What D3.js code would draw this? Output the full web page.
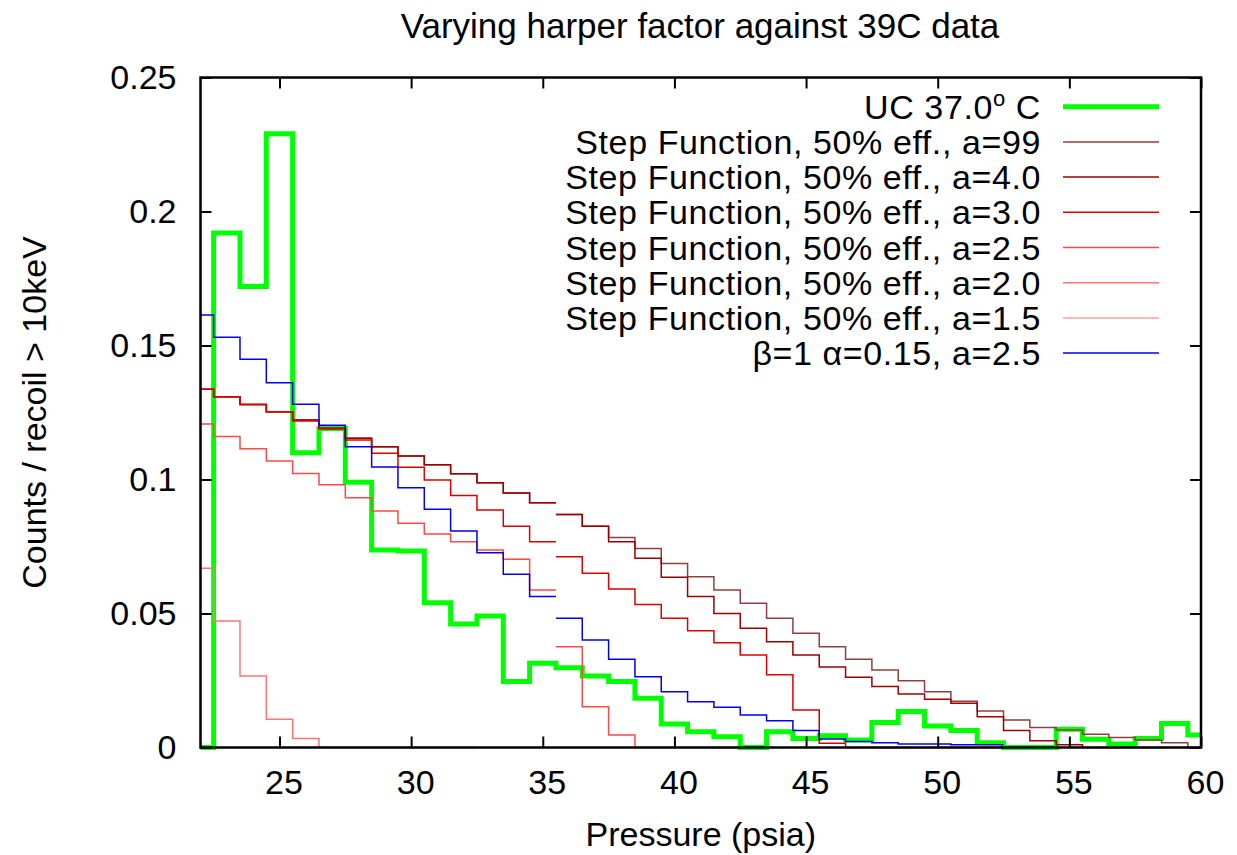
<!DOCTYPE html>
<html>
<head>
<meta charset="utf-8">
<script src="https://cdn.jsdelivr.net/npm/d3@7"></script>
<style>
  body { margin: 0; background: #fff; }
  svg { display: block; font-family: "Liberation Sans", Arial, Helvetica, sans-serif; }
</style>
</head>
<body>
<svg id="chart" width="1237" height="855"></svg>
<script>
// pressure bins (psia), 1 psi wide, centred on integers
const bins = d3.range(22, 61);
const xTicks = [25, 30, 35, 40, 45, 50, 55, 60];
const yTicks = [0, 0.05, 0.1, 0.15, 0.2, 0.25];
const yTickLabels = ["0", "0.05", "0.1", "0.15", "0.2", "0.25"];
// model curves come from two runs that meet here, no join drawn
const modelBreak = 35.5;

const ucData = [0, 0.192, 0.172, 0.229, 0.110, 0.119, 0.099, 0.0737, 0.0733, 0.054,
  0.0461, 0.0491, 0.0246, 0.0314, 0.0298, 0.0267, 0.0246, 0.0184, 0.0088, 0.0059,
  0.004, 0, 0.0059, 0.0034, 0.0044, 0.0028, 0.0093, 0.0134, 0.008, 0.0063,
  0.0018, 0, 0, 0.0068, 0.0031, 0.0013, 0.0034, 0.009, 0.0047];

const step99 = [0.1337, 0.1309, 0.128, 0.1253, 0.1222, 0.1191, 0.1154, 0.1122, 0.1088, 0.1055,
  0.1021, 0.0988, 0.095, 0.0913, 0.0869, 0.0826, 0.0784, 0.0743, 0.0687, 0.0637,
  0.0588, 0.0538, 0.0482, 0.0426, 0.0376, 0.0329, 0.0289, 0.0249, 0.0208, 0.0173,
  0.0136, 0.0103, 0.0075, 0.0065, 0.0049, 0.0037, 0.0028, 0.0018, 0];

const step40 = [0.1337, 0.1309, 0.128, 0.1253, 0.1222, 0.1191, 0.1154, 0.1122, 0.1088, 0.1055,
  0.1021, 0.0988, 0.095, 0.0913, 0.0869, 0.0826, 0.0768, 0.0706, 0.0635, 0.0563,
  0.05, 0.0445, 0.0395, 0.0345, 0.03, 0.0262, 0.0228, 0.02, 0.018, 0.0165,
  0.0115, 0.0063, 0.0025, 0.001, 0, 0, 0, 0, 0];

const step30 = [0.1337, 0.1309, 0.128, 0.1253, 0.1218, 0.1188, 0.1147, 0.1098, 0.1046, 0.0998,
  0.094, 0.0886, 0.0826, 0.0768, 0.0712, 0.065, 0.0591, 0.0534, 0.0482, 0.0436,
  0.0391, 0.0345, 0.0271, 0.014, 0.0016, 0, 0, 0, 0, 0,
  0, 0, null, null, null, null, null, null, null];

const step25 = [0.1207, 0.116, 0.1115, 0.1069, 0.1022, 0.098, 0.0932, 0.0882, 0.0837, 0.0797,
  0.0768, 0.0737, 0.0702, 0.0588, 0.0376, 0.0152, 0.0047, 0, 0, 0,
  0, null, null, null, null, null, null, null, null, null,
  null, null, null, null, null, null, null, null, null];

const step20 = [0.0669, 0.0472, 0.0267, 0.0105, 0.0034, 0, 0, 0, 0, 0,
  0, null, null, null, null, null, null, null, null, null,
  null, null, null, null, null, null, null, null, null, null,
  null, null, null, null, null, null, null, null, null];

const step15 = [0, 0, 0, 0, 0, 0, 0, 0, 0, 0,
  0, null, null, null, null, null, null, null, null, null,
  null, null, null, null, null, null, null, null, null, null,
  null, null, null, null, null, null, null, null, null];

const betaAlpha = [0.1614, 0.1531, 0.1449, 0.1361, 0.1281, 0.1202, 0.1122, 0.1047, 0.0969, 0.0889,
  0.0808, 0.0727, 0.0646, 0.0563, 0.0482, 0.0401, 0.0329, 0.0264, 0.0208, 0.0171,
  0.015, 0.0121, 0.01, 0.0063, 0.0032, 0.0022, 0.0018, 0.0013, 0.0013, 0.001,
  0.001, null, null, null, null, null, null, null, null];

const series = [
  { label: "UC 37.0", values: ucData, color: "#00ff00", width: 5, broken: false },
  { label: "Step Function, 50% eff., a=99", values: step99, color: "#8e4040", width: 1.5, broken: true },
  { label: "Step Function, 50% eff., a=4.0", values: step40, color: "#9c0000", width: 1.5, broken: true },
  { label: "Step Function, 50% eff., a=3.0", values: step30, color: "#dd0000", width: 1.5, broken: true },
  { label: "Step Function, 50% eff., a=2.5", values: step25, color: "#ff4848", width: 1.5, broken: true },
  { label: "Step Function, 50% eff., a=2.0", values: step20, color: "#ff7474", width: 1.5, broken: true },
  { label: "Step Function, 50% eff., a=1.5", values: step15, color: "#ffa0a0", width: 1.5, broken: true },
  { label: "\u03b2=1 \u03b1=0.15, a=2.5", values: betaAlpha, color: "#0000ee", width: 1.5, broken: true }
];

const svg = d3.select("#chart");
const plotLeft = 200.5, plotRight = 1201, plotTop = 77.5, plotBottom = 747.5;
const fontSize = 34;

const x = d3.scaleLinear().domain([22, 60]).range([plotLeft, plotRight]);
const y = d3.scaleLinear().domain([0, 0.25]).range([plotBottom, plotTop]);

svg.append("defs").append("clipPath").attr("id", "plot-clip")
  .append("rect")
  .attr("x", plotLeft).attr("y", plotTop - 5)
  .attr("width", plotRight - plotLeft).attr("height", plotBottom - plotTop + 10);

function stepSegments(values, broken) {
  const segs = [];
  let cur = null;
  bins.forEach((b, i) => {
    const v = values[i];
    if (v == null) { cur = null; return; }
    if (!cur || (broken && b - 0.5 === modelBreak)) {
      cur = [];
      segs.push(cur);
    }
    cur.push([b - 0.5, v], [b + 0.5, v]);
  });
  return segs;
}

const line = d3.line().x((d) => x(d[0])).y((d) => y(d[1]));

const plot = svg.append("g").attr("clip-path", "url(#plot-clip)");
series.forEach((s) => {
  plot.append("g")
    .selectAll("path")
    .data(stepSegments(s.values, s.broken))
    .join("path")
    .attr("d", line)
    .attr("fill", "none")
    .attr("stroke", s.color)
    .attr("stroke-width", s.width)
    .attr("stroke-linejoin", "miter");
});

// axes: inward ticks on all four sides
const xAxis = svg.append("g")
  .attr("transform", `translate(0,${plotBottom})`)
  .call(d3.axisBottom(x).tickValues(xTicks).tickSizeInner(-11).tickSizeOuter(0).tickPadding(22));
svg.append("g")
  .attr("transform", `translate(${plotLeft},0)`)
  .call(d3.axisLeft(y).tickValues(yTicks).tickFormat((d, i) => yTickLabels[i])
    .tickSizeInner(-11).tickSizeOuter(0).tickPadding(24));
svg.append("g")
  .attr("transform", `translate(0,${plotTop})`)
  .call(d3.axisTop(x).tickValues(xTicks).tickSizeInner(-11).tickSizeOuter(0).tickFormat(""));
svg.append("g")
  .attr("transform", `translate(${plotRight},0)`)
  .call(d3.axisRight(y).tickValues(yTicks).tickSizeInner(-11).tickSizeOuter(0).tickFormat(""));

svg.selectAll(".domain").remove();
svg.selectAll(".tick line").attr("stroke", "#000").attr("stroke-width", 2);
xAxis.selectAll("text").attr("dx", 4);
svg.selectAll(".tick text")
  .attr("font-family", "'Liberation Sans', Arial, sans-serif")
  .attr("font-size", fontSize)
  .attr("fill", "#000");

svg.append("rect")
  .attr("x", plotLeft).attr("y", plotTop)
  .attr("width", plotRight - plotLeft).attr("height", plotBottom - plotTop)
  .attr("fill", "none").attr("stroke", "#000").attr("stroke-width", 2.5);

// titles
svg.append("text")
  .attr("x", 700).attr("y", 38)
  .attr("text-anchor", "middle").attr("font-size", 35)
  .text("Varying harper factor against 39C data");

svg.append("text")
  .attr("x", (plotLeft + plotRight) / 2).attr("y", 846)
  .attr("text-anchor", "middle").attr("font-size", fontSize)
  .text("Pressure (psia)");

svg.append("text")
  .attr("transform", `translate(46,${(plotTop + plotBottom) / 2}) rotate(-90)`)
  .attr("text-anchor", "middle").attr("font-size", fontSize)
  .text("Counts / recoil > 10keV");

// legend
const legend = svg.append("g")
  .selectAll("g")
  .data(series)
  .join("g")
  .attr("transform", (d, i) => `translate(0,${106.7 + i * 35.2})`);

legend.append("line")
  .attr("x1", 1063).attr("x2", 1159)
  .attr("stroke", (d) => d.color)
  .attr("stroke-width", (d) => d.width);

const legendText = legend.append("text")
  .attr("x", 1041).attr("y", 12)
  .attr("text-anchor", "end")
  .attr("font-size", fontSize)
  .attr("letter-spacing", 0.6);

legendText.each(function (d, i) {
  const t = d3.select(this);
  if (i === 0) {
    t.append("tspan").text(d.label);
    t.append("tspan").attr("dy", -13).attr("font-size", 22).text("o");
    t.append("tspan").attr("dy", 13).text(" C");
  } else {
    t.text(d.label);
  }
});
</script>
</body>
</html>
